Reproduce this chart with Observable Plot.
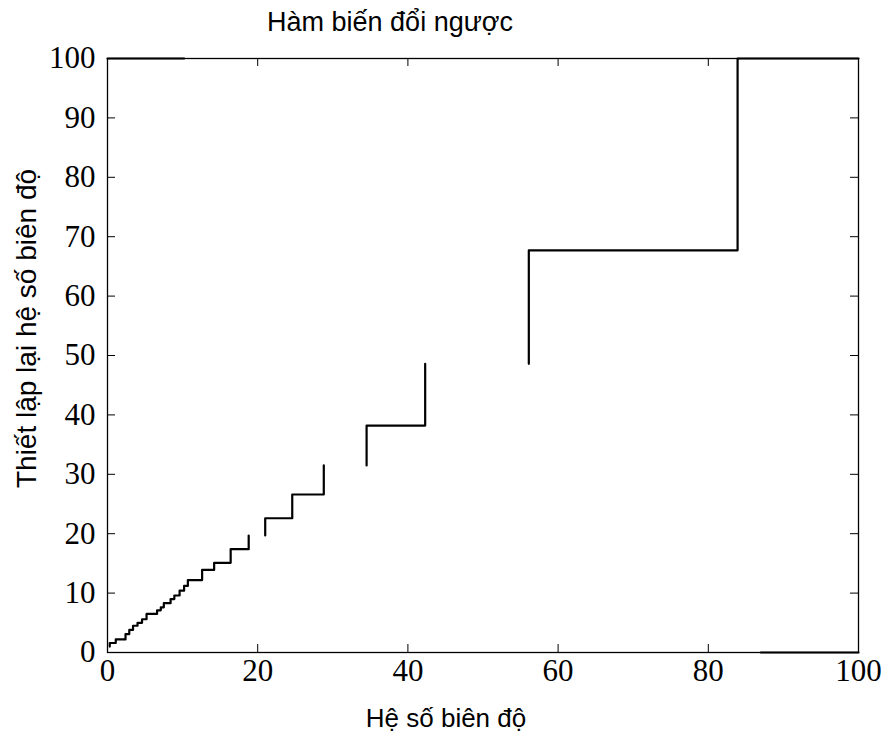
<!DOCTYPE html>
<html><head><meta charset="utf-8">
<script src="https://cdn.jsdelivr.net/npm/d3@7"></script>
<script src="https://cdn.jsdelivr.net/npm/@observablehq/plot@0.6"></script>
<style>body{margin:0;background:#fff}</style>
</head><body><div id="chart"></div>
<script>
const title = "Hàm biến đổi ngược";
const xLabel = "Hệ số biên độ";
const yLabel = "Thiết lập lại hệ số biên độ";
const xTicks = [0, 20, 40, 60, 80, 100];
const yTicks = [0, 10, 20, 30, 40, 50, 60, 70, 80, 90, 100];
// staircase vertices (null = break in the line)
const stepX = [0.3, 0.3, 1.1, 1.1, 2.4, 2.4, 2.9, 2.9, 3.4, 3.4, 4.0, 4.0, 4.6, 4.6, 5.2, 5.2, 6.6, 6.6, 7.1, 7.1, 7.5, 7.5, 8.4, 8.4, 8.9, 8.9, 9.6, 9.6, 10.2, 10.2, 10.7, 10.7, 12.6, 12.6, 14.2, 14.2, 16.4, 16.4, 18.8, 18.8,
  null,
  21.0, 21.0, 24.6, 24.6, 28.8, 28.8,
  null,
  34.5, 34.5, 42.3, 42.3,
  null,
  56.1, 56.1, 83.9, 83.9, 100,
  null,
  0, 10.2,
  null,
  87, 100];
const stepY = [1.0, 1.6, 1.6, 2.2, 2.2, 3.1, 3.1, 3.8, 3.8, 4.5, 4.5, 5.0, 5.0, 5.6, 5.6, 6.5, 6.5, 7.1, 7.1, 7.6, 7.6, 8.3, 8.3, 9.0, 9.0, 9.6, 9.6, 10.4, 10.4, 11.2, 11.2, 12.2, 12.2, 13.9, 13.9, 15.1, 15.1, 17.4, 17.4, 19.7,
  null,
  19.7, 22.6, 22.6, 26.6, 26.6, 31.5,
  null,
  31.5, 38.2, 38.2, 48.6,
  null,
  48.6, 67.7, 67.7, 100, 100,
  null,
  100, 100,
  null,
  0, 0];
const pts = stepX.map((x, i) => ({x, y: stepY[i]}));

const W = 890, H = 738, mL = 107, mR = 32, mT = 58, mB = 86;
const innerH = H - mT - mB, innerW = W - mL - mR, tk = 8;
const serif = "Liberation Serif, Times New Roman, serif";
const sans = "Liberation Sans, Arial, sans-serif";

const chart = Plot.plot({
  width: W, height: H,
  marginLeft: mL, marginRight: mR, marginTop: mT, marginBottom: mB,
  x: {domain: [0, 100]},
  y: {domain: [0, 100]},
  style: {background: "#fff", color: "#000"},
  marks: [
    Plot.tickX(xTicks.slice(1, -1), {x: d => d, insetTop: innerH - tk, stroke: "#000", strokeWidth: 1}),
    Plot.tickX(xTicks.slice(1, -1), {x: d => d, insetBottom: innerH - tk, stroke: "#000", strokeWidth: 1}),
    Plot.tickY(yTicks.slice(1, -1), {y: d => d, insetRight: innerW - tk, stroke: "#000", strokeWidth: 1}),
    Plot.tickY(yTicks.slice(1, -1), {y: d => d, insetLeft: innerW - tk, stroke: "#000", strokeWidth: 1}),
    Plot.axisX(xTicks, {tickSize: 0, tickPadding: 6, label: null, fontFamily: serif, fontSize: 31, tickFormat: d => String(d)}),
    Plot.axisY(yTicks, {tickSize: 0, tickPadding: 12, label: null, fontFamily: serif, fontSize: 31, tickFormat: d => String(d)}),
    Plot.line(pts, {x: "x", y: "y", stroke: "#000", strokeWidth: 2.2}),
    Plot.frame({stroke: "#000", strokeWidth: 1.3}),
    Plot.text([title], {frameAnchor: "top", textAnchor: "middle", lineAnchor: "middle", dx: -93, dy: -36, fontSize: 27, fontFamily: sans, fill: "#000"}),
    Plot.text([xLabel], {frameAnchor: "bottom", textAnchor: "middle", lineAnchor: "middle", dx: -37, dy: 66, fontSize: 26, fontFamily: sans, fill: "#000"}),
    Plot.text([yLabel], {frameAnchor: "left", textAnchor: "middle", lineAnchor: "middle", dx: -80, dy: -27, rotate: -90, fontSize: 28, fontFamily: sans, fill: "#000"})
  ]
});
document.getElementById("chart").append(chart);
</script>
</body></html>
